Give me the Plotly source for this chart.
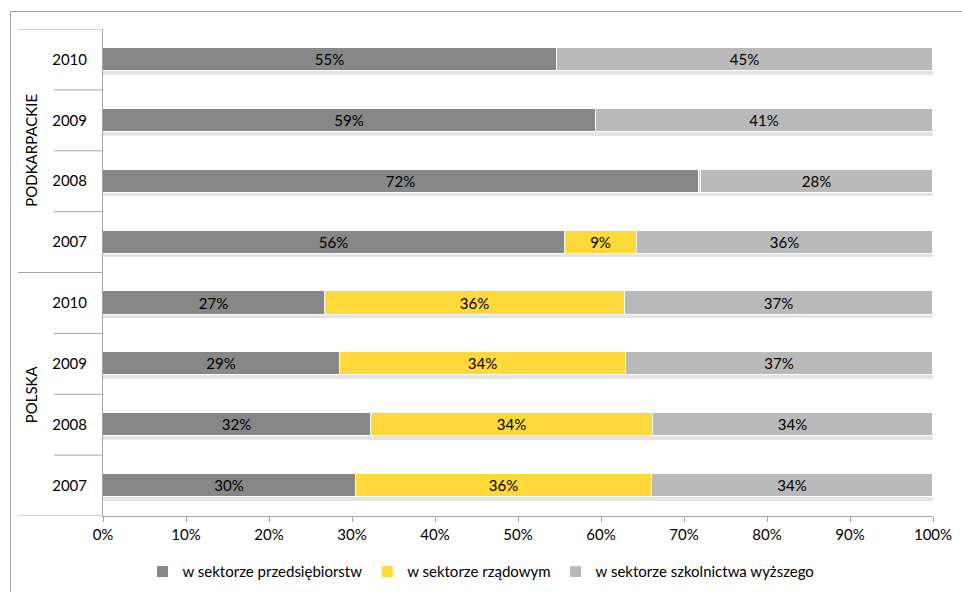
import plotly.graph_objects as go

# Shares of R&D expenditure by sector (%), rows listed top to bottom
groups = ["PODKARPACKIE", "POLSKA"]
years = ["2010", "2009", "2008", "2007"]
sector_names = ["w sektorze przedsiębiorstw", "w sektorze rządowym",
                "w sektorze szkolnictwa wyższego"]

podkarpackie_business = [54.7, 59.4, 71.8, 55.7]
podkarpackie_government = [0.0, 0.0, 0.3, 8.6]
podkarpackie_higher_ed = [45.3, 40.6, 27.9, 35.7]

polska_business = [26.7, 28.6, 32.3, 30.5]
polska_government = [36.2, 34.4, 34.0, 35.6]
polska_higher_ed = [37.1, 37.0, 33.7, 33.9]

colors = ["#878787", "#FFD83A", "#B9B9B9"]
FONT = "Lato"
FSIZE = 15
TXT = "#000000"

series = [
    podkarpackie_business + polska_business,
    podkarpackie_government + polska_government,
    podkarpackie_higher_ed + polska_higher_ed,
]
n_rows = len(series[0])
# numeric row positions: first listed row at the top
ypos = [n_rows - 1 - i for i in range(n_rows)]
row_labels = years + years
BAR_W = 0.38

fig = go.Figure()

# soft shadow under every bar
totals = [sum(s[i] for s in series) for i in range(n_rows)]
fig.add_trace(go.Bar(
    y=[p - 0.06 for p in ypos], x=totals, orientation="h", width=BAR_W,
    marker=dict(color="#E4E4E4", line=dict(width=0)),
    showlegend=False, hoverinfo="skip",
))

for name, vals, col in zip(sector_names, series, colors):
    fig.add_trace(go.Bar(
        y=ypos, x=vals, orientation="h", name=name, width=BAR_W,
        marker=dict(color=col, line=dict(color="white", width=1)),
        text=[f"{v:.0f}%" if v >= 1 else "" for v in vals],
        textposition="inside", insidetextanchor="middle",
        textfont=dict(family=FONT, size=FSIZE, color=TXT),
        constraintext="none", cliponaxis=False,
    ))

L, R, T, B = 103, 29, 29, 76
W, H = 962, 592
pw = W - L - R

def px_to_paper_x(px):
    return (px - L) / pw

AXIS_COL = "#A6A6A6"
shapes = []
# row separators on the category axis
for k in range(1, n_rows):
    yb = ypos[k] + 0.5
    is_group_edge = k % len(years) == 0
    shapes.append(dict(type="line", xref="paper", yref="y",
                       x0=px_to_paper_x(18 if is_group_edge else 54), x1=0,
                       y0=yb, y1=yb, line=dict(color=AXIS_COL, width=1)))
for yb in (ypos[0] + 0.5, ypos[-1] - 0.5):
    shapes.append(dict(type="line", xref="paper", yref="y",
                       x0=px_to_paper_x(18), x1=0, y0=yb, y1=yb,
                       line=dict(color=AXIS_COL, width=1)))
# outer chart frame
shapes.append(dict(type="rect", xref="paper", yref="paper",
                   x0=px_to_paper_x(10.5), x1=px_to_paper_x(W + 5),
                   y0=-(B + 10) / (H - T - B), y1=1 + (T - 11.5) / (H - T - B),
                   line=dict(color="#A0A0A0", width=1)))

annotations = []
for g, name in enumerate(groups):
    rows = ypos[g * len(years):(g + 1) * len(years)]
    annotations.append(dict(
        text=name, xref="paper", yref="y", x=px_to_paper_x(31),
        xanchor="center", yanchor="middle",
        y=sum(rows) / len(rows), textangle=-90, showarrow=False,
        font=dict(family=FONT, size=FSIZE, color=TXT),
    ))

fig.update_layout(
    width=W, height=H, barmode="stack", bargap=0,
    margin=dict(l=L, r=R, t=T, b=B, autoexpand=False),
    paper_bgcolor="white", plot_bgcolor="white",
    font=dict(family=FONT, size=FSIZE, color=TXT),
    xaxis=dict(range=[0, 100], tickvals=list(range(0, 101, 10)),
               ticktext=[f"{v}%" for v in range(0, 101, 10)],
               showgrid=False, zeroline=False, showline=True,
               linecolor=AXIS_COL, linewidth=1, ticks="outside",
               ticklen=5, tickcolor=AXIS_COL, fixedrange=True,
               automargin=False),
    yaxis=dict(range=[-0.5, n_rows - 0.5], tickvals=ypos, ticktext=row_labels,
               showgrid=False, zeroline=False, showline=True,
               linecolor=AXIS_COL, linewidth=1, ticks="",
               ticklabelstandoff=12, fixedrange=True, automargin=False),
    legend=dict(orientation="h", xref="container", x=0.5, xanchor="center",
                yref="container", y=0.034, yanchor="middle",
                font=dict(family=FONT, size=FSIZE), itemwidth=30,
                traceorder="normal"),
    shapes=shapes, annotations=annotations,
)

fig.write_html("out.html")
